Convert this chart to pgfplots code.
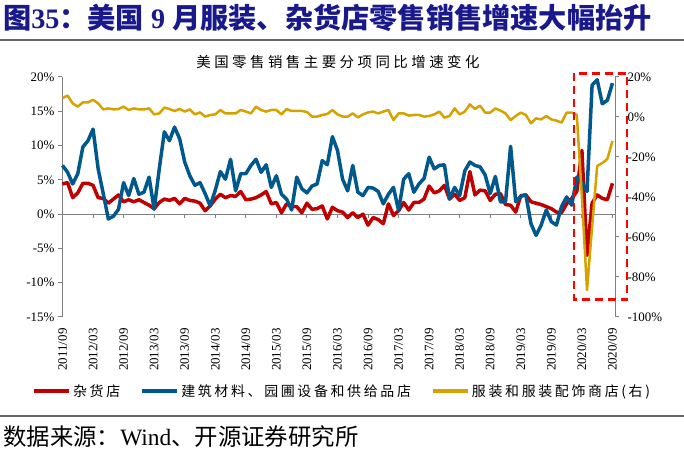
\documentclass[border=0pt]{standalone}
\usepackage{pgfplots}
\pgfplotsset{compat=1.18}
\usepackage{pgfplotstable}
\usepackage{fontspec}
\setmainfont{Liberation Serif}
\newfontfamily\cjk{Noto Sans CJK SC}
\newfontfamily\cjkleg[LetterSpace=19]{Noto Sans CJK SC}
\newfontfamily\cjksub[LetterSpace=24]{Noto Sans CJK SC}
\definecolor{titleblue}{RGB}{25,25,140}
\definecolor{cred}{RGB}{192,0,0}
\definecolor{cblue}{RGB}{0,88,140}
\definecolor{cyel}{RGB}{214,162,0}
\definecolor{boxred}{RGB}{255,0,0}
\definecolor{axgray}{RGB}{128,128,128}

\pgfplotstableread{
x g b a
0 4.4 7.1 9.5
1 4.6 6.1 10.7
2 2.4 4.4 6.8
3 3.1 5.9 5.2
4 4.5 9.8 7.3
5 4.5 10.7 7.3
6 4.2 12.4 8.6
7 2.4 6.6 6.8
8 2.3 3.0 3.8
9 1.6 -0.7 4.3
10 2.2 -0.3 3.8
11 2.8 0.7 4.0
12 1.8 4.6 5.2
13 2.1 2.7 3.5
14 1.8 5.2 4.3
15 2.1 2.9 3.8
16 1.7 3.2 3.8
17 1.3 5.4 4.3
18 0.8 0.7 1.3
19 1.7 6.6 1.8
20 2.2 12.0 4.7
21 2.0 10.7 4.0
22 2.3 12.7 3.0
23 1.5 11.0 4.0
24 2.3 7.6 2.7
25 2.0 5.6 3.8
26 1.9 4.2 1.3
27 1.6 4.6 2.3
28 0.5 3.0 0.2
29 1.2 1.2 1.0
30 2.2 3.5 1.3
31 2.9 6.2 3.5
32 2.4 5.1 1.8
33 2.7 8.0 1.8
34 2.6 3.4 1.8
35 3.3 5.9 3.5
36 2.1 5.9 2.7
37 2.2 7.1 1.8
38 2.4 8.0 5.2
39 2.8 6.1 3.5
40 3.3 7.2 2.7
41 1.5 3.9 3.5
42 1.7 5.6 3.5
43 0.2 2.9 1.3
44 1.5 2.2 4.0
45 1.1 0.6 3.0
46 1.1 5.4 3.0
47 0.2 3.7 3.0
48 1.6 3.1 2.5
49 0.7 4.1 0.2
50 0.8 4.4 0.2
51 1.2 7.8 1.0
52 -0.7 7.2 1.5
53 1.0 11.3 3.5
54 0.5 9.3 1.3
55 0.3 5.1 0.2
56 -0.5 3.4 0.2
57 0.2 7.1 1.8
58 -0.5 3.2 -0.2
59 0.0 2.7 1.3
60 -1.6 3.9 2.3
61 -0.5 3.8 2.7
62 -0.8 3.3 1.8
63 -1.4 1.5 2.7
64 1.5 2.9 3.5
65 -0.2 3.9 -1.5
66 0.5 0.5 1.8
67 1.7 5.1 1.8
68 0.6 5.9 0.7
69 1.7 3.2 1.0
70 1.7 4.4 1.0
71 2.2 5.2 0.2
72 4.1 8.3 0.5
73 3.1 6.6 1.3
74 3.4 7.1 2.7
75 4.2 7.2 -0.3
76 2.2 2.2 0.5
77 2.9 3.9 4.3
78 2.0 2.7 1.3
79 2.4 6.3 2.7
80 6.2 7.6 6.3
81 2.8 7.1 4.0
82 3.5 6.9 5.7
83 3.4 5.7 2.2
84 2.0 3.0 2.2
85 2.9 5.5 4.3
86 3.0 1.8 3.2
87 1.4 1.8 1.8
88 1.3 9.9 -1.5
89 0.3 1.8 0.5
90 2.7 2.6 2.2
91 2.8 2.8 1.0
92 1.8 -1.4 -3.2
93 1.6 -3.1 -0.7
94 1.4 -1.6 -1.2
95 1.1 0.6 0.5
96 0.8 -1.1 -1.2
97 0.3 -1.6 -1.8
98 0.2 1.1 -2.8
99 1.5 2.5 2.2
100 2.3 1.3 2.2
101 3.3 5.4 1.0
102 9.3 4.6 -40
103 -6.0 3.3 -86.5
104 1.6 18.8 -55
105 2.8 19.6 -24.5
106 2.3 16.1 -23
107 2.1 16.6 -21
108 4.5 19.1 -12
}\datatable

\pgfplotsset{
  common/.style={
    at={(62bp,134bp)}, anchor=south west, scale only axis,
    width=553bp, height=240bp,
    xmin=-0.1, xmax=108.5,
    tick align=outside, major tick length=4bp,
    /pgf/number format/assume math mode=true,
    yticklabel={\pgfmathprintnumber{\tick}\%},
    yticklabel style={font=\fontsize{13}{15}\selectfont},
    y axis line style={axgray, line width=1bp},
    ytick style={axgray, line width=1bp},
    clip=false,
  }
}

\begin{document}
\begin{tikzpicture}
\path[use as bounding box] (0,0) rectangle (684bp,451bp);
\node[anchor=west, inner sep=0pt, text=titleblue] at (3bp,433bp)
  {\fontsize{28.3}{31}\selectfont\bfseries{\cjk\bfseries 图}35{\cjk\bfseries ：美国} 9 {\cjk\bfseries 月服装、杂货店零售销售增速大幅抬升}};
\draw[line width=2bp, color=black!60] (0,411bp) -- (684bp,411bp);
\node[inner sep=0pt] at (338bp,389bp) {\fontsize{14.5}{16}\selectfont\cjksub 美国零售销售主要分项同比增速变化};
\draw[line width=2bp, color=black!60] (0,35bp) -- (684bp,35bp);
\node[anchor=west, inner sep=0pt] at (3bp,14bp) {\fontsize{23.5}{26}\selectfont{\cjk 数据来源：}Wind{\cjk 、开源证券研究所}};

\begin{axis}[common,
  ymin=-15, ymax=20,
  axis y line*=left, axis x line*=bottom,
  x axis line style={draw=none},
  xtick={0,6,...,108},
  xticklabels={2011/09,2012/03,2012/09,2013/03,2013/09,2014/03,2014/09,2015/03,2015/09,2016/03,2016/09,2017/03,2017/09,2018/03,2018/09,2019/03,2019/09,2020/03,2020/09},
  xtick style={draw=none},
  xticklabel shift=4bp,
  xticklabel style={rotate=90, anchor=east, font=\fontsize{13}{15}\selectfont},
  ytick={-15,-10,...,20},
]
\draw[axgray, line width=1bp] (axis cs:-0.1,0) -- (axis cs:108.5,0);
\pgfplotsinvokeforeach{0,6,...,108}{\draw[axgray, line width=1bp] (axis cs:#1,0) -- ++(0pt,-4bp);}
\addplot[cred, line width=3.5bp, line join=round] table[x=x,y=g]{\datatable};
\addplot[cblue, line width=3.5bp, line join=round] table[x=x,y=b]{\datatable};
\end{axis}

\begin{axis}[common,
  ymin=-100, ymax=20,
  axis y line*=right, axis x line=none,
  ytick={-100,-80,...,20},
  yticklabel style={xshift=5bp},
  legend columns=3,
  legend style={at={(-0.054,-0.3083)}, anchor=west, draw=none, fill=none,
    inner sep=0pt, outer sep=0pt,
    nodes={inner sep=0pt, font=\fontsize{14}{16}\selectfont\cjkleg},
    /tikz/every odd column/.append style={column sep=2bp},
    /tikz/every even column/.append style={column sep=20bp}},
  legend image code/.code={\draw[#1, line width=4bp] (0bp,0bp) -- (35bp,0bp);},
]
\addlegendimage{cred}
\addlegendentry{杂货店}
\addlegendimage{cblue}
\addlegendentry{建筑材料、园圃设备和供给品店}
\addplot[cyel, line width=2.5bp, line join=round] table[x=x,y=a]{\datatable};
\addlegendentry{服装和服装配饰商店(右)}
\draw[boxred, line width=2.5bp, dash pattern=on 8bp off 5bp] (axis cs:100.4,21.85) rectangle (axis cs:110.9,-91.15);
\end{axis}
\end{tikzpicture}
\end{document}
